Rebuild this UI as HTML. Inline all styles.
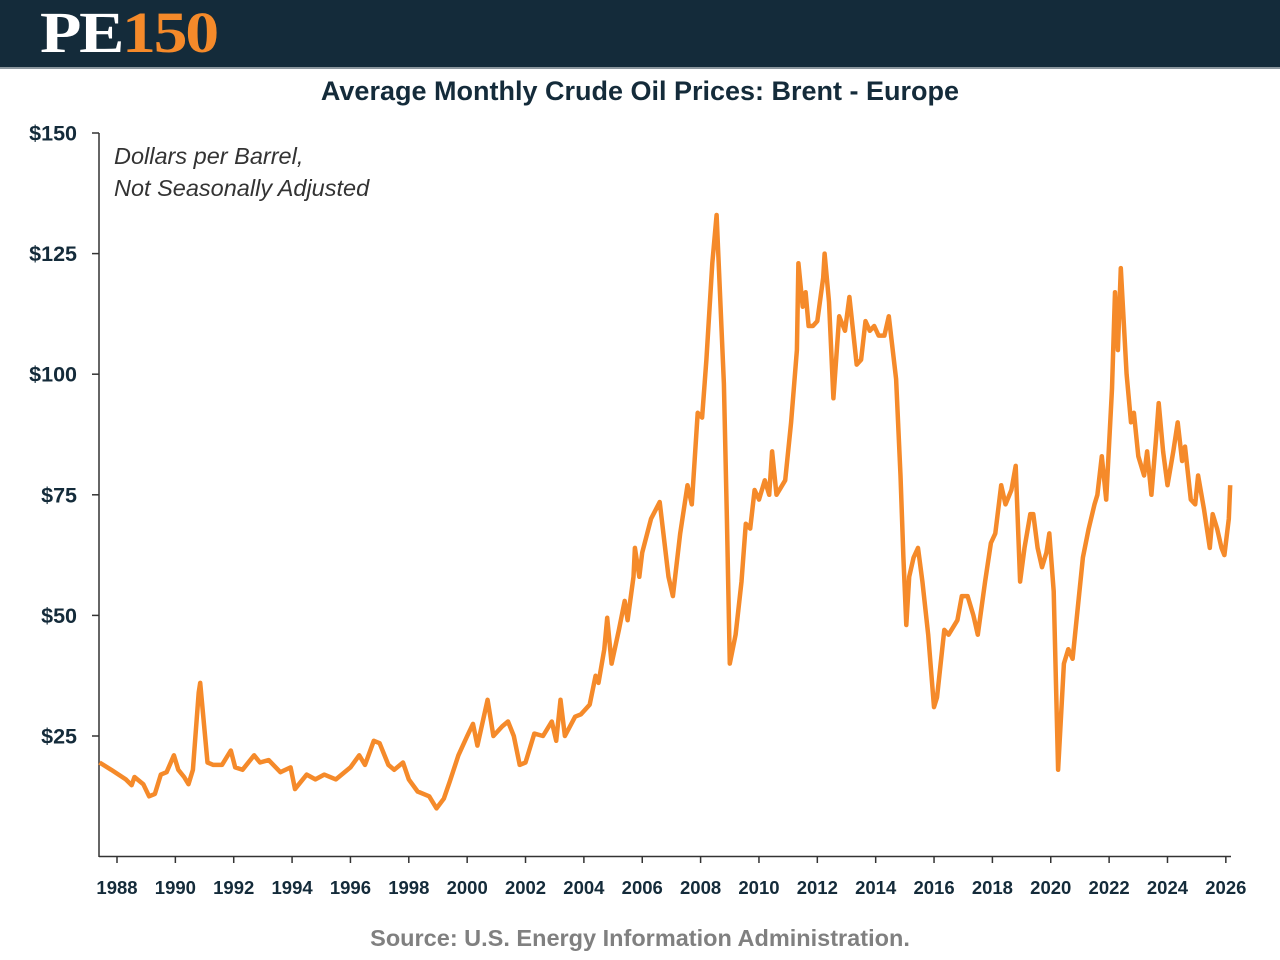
<!DOCTYPE html>
<html><head><meta charset="utf-8">
<style>
body{margin:0;width:1280px;height:960px;background:#fff;font-family:"Liberation Sans",sans-serif;overflow:hidden;position:relative}
.hdr{position:absolute;left:0;top:0;width:1280px;height:67px;background:#142b3a;border-bottom:2px solid #8c979e}
.logo{position:absolute;left:40px;top:3px;font-family:"Liberation Serif",serif;font-weight:bold;font-size:58px;letter-spacing:-2px;line-height:60px;transform:scaleX(1.17);transform-origin:left center}
</style></head><body>
<div class="hdr">
<div class="logo"><span style="color:#fff">PE</span><span style="color:#f58a2a">150</span></div>
</div>
<svg width="1280" height="960" style="position:absolute;left:0;top:0">
<text x="640" y="100" text-anchor="middle" font-size="27" font-weight="bold" fill="#142b3a">Average Monthly Crude Oil Prices: Brent - Europe</text>
<text x="114" y="164" font-size="23.5" font-style="italic" fill="#333">Dollars per Barrel,</text>
<text x="114" y="196" font-size="23.5" font-style="italic" fill="#333">Not Seasonally Adjusted</text>
<text x="640" y="946" text-anchor="middle" font-size="23.5" font-weight="bold" fill="#808080">Source: U.S. Energy Information Administration.</text>
<g id="axes"></g>
<path id="line" fill="none" stroke="#f58a2a" stroke-width="4.5" stroke-linejoin="round"/>
</svg>
<script>
const dates=[1987.4,1987.8,1988.3,1988.5,1988.6,1988.9,1989.1,1989.3,1989.5,1989.7,1989.95,1990.1,1990.3,1990.45,1990.6,1990.8,1990.85,1991.1,1991.3,1991.6,1991.9,1992.05,1992.3,1992.7,1992.9,1993.2,1993.6,1993.95,1994.1,1994.5,1994.8,1995.1,1995.5,1996.0,1996.3,1996.5,1996.8,1997.0,1997.3,1997.5,1997.8,1998.0,1998.3,1998.7,1998.95,1999.2,1999.4,1999.7,2000.0,2000.2,2000.35,2000.7,2000.9,2001.2,2001.4,2001.6,2001.8,2002.0,2002.3,2002.6,2002.9,2003.05,2003.2,2003.35,2003.7,2003.9,2004.2,2004.4,2004.5,2004.7,2004.8,2004.95,2005.2,2005.4,2005.5,2005.7,2005.75,2005.9,2006.0,2006.3,2006.6,2006.9,2007.05,2007.3,2007.55,2007.7,2007.9,2008.05,2008.2,2008.4,2008.55,2008.8,2008.9,2009.0,2009.2,2009.4,2009.55,2009.7,2009.85,2010.0,2010.2,2010.35,2010.45,2010.6,2010.9,2011.1,2011.3,2011.35,2011.5,2011.6,2011.7,2011.85,2012.0,2012.2,2012.25,2012.4,2012.55,2012.75,2012.95,2013.1,2013.35,2013.5,2013.65,2013.8,2013.95,2014.1,2014.3,2014.45,2014.7,2014.85,2014.95,2015.05,2015.15,2015.3,2015.45,2015.6,2015.8,2016.0,2016.1,2016.35,2016.5,2016.8,2016.95,2017.15,2017.35,2017.5,2017.75,2017.95,2018.1,2018.3,2018.45,2018.65,2018.8,2018.95,2019.1,2019.3,2019.4,2019.55,2019.7,2019.85,2019.95,2020.1,2020.25,2020.45,2020.6,2020.75,2020.9,2021.1,2021.3,2021.5,2021.6,2021.75,2021.9,2022.1,2022.2,2022.3,2022.4,2022.6,2022.75,2022.85,2023.0,2023.2,2023.3,2023.45,2023.6,2023.7,2023.85,2024.0,2024.2,2024.35,2024.5,2024.6,2024.8,2024.95,2025.05,2025.25,2025.45,2025.55,2025.7,2025.85,2025.95,2026.1,2026.15];
const prices=[19.5,18,16,14.8,16.5,15,12.5,13,17,17.5,21,18,16.5,15,18,34,36,19.5,19,19,22,18.5,18,21,19.5,20,17.5,18.5,14,17,16,17,16,18.5,21,19,24,23.5,19,18,19.5,16,13.5,12.5,10,12,15.5,21,25,27.5,23,32.5,25,27,28,25,19,19.5,25.5,25,28,24,32.5,25,29,29.5,31.5,37.5,36,43,49.5,40,47,53,49,58,64,58,63,70,73.5,58,54,67,77,73,92,91,103,123,133,98,70,40,46,57,69,68,76,74,78,75,84,75,78,90,105,123,114,117,110,110,111,120,125,115,95,112,109,116,102,103,111,109,110,108,108,112,99,79,62,48,58,62,64,57,46,31,33,47,46,49,54,54,50,46,57,65,67,77,73,76,81,57,64,71,71,64,60,63,67,55,18,40,43,41,50,62,68,73,75,83,74,97,117,105,122,100,90,92,83,79,84,75,86,94,84,77,84,90,82,85,74,73,79,72,64,71,68,64,62.5,70,77];
const yTicks=[25,50,75,100,125,150];
const xTicks=[1988,1990,1992,1994,1996,1998,2000,2002,2004,2006,2008,2010,2012,2014,2016,2018,2020,2022,2024,2026];
const X=y=>117+(y-1988)*29.18;
const Y=v=>856.6-v*4.824;
const NS='http://www.w3.org/2000/svg';
const g=document.getElementById('axes');
function mk(t,a){const e=document.createElementNS(NS,t);for(const k in a)e.setAttribute(k,a[k]);g.appendChild(e);return e;}
let e=mk('line',{x1:99,y1:133,x2:99,y2:857,stroke:'#333','stroke-width':1.5});


e=mk('line',{x1:99,y1:856.5,x2:1231,y2:856.5,stroke:'#333','stroke-width':1.5});


yTicks.forEach(v=>{
 mk('line',{x1:92,y1:Y(v),x2:99,y2:Y(v),stroke:'#333','stroke-width':1.5});
 const t=mk('text',{x:77,y:Y(v)+7.5,'text-anchor':'end','font-size':21.5,'font-weight':'bold',fill:'#142b3a'});
 t.textContent='$'+v;
 
 
});
xTicks.forEach(v=>{
 mk('line',{x1:X(v),y1:856,x2:X(v),y2:863,stroke:'#333','stroke-width':1.5});
 const t=mk('text',{x:X(v),y:894,'text-anchor':'middle','font-size':18.5,'font-weight':'bold',fill:'#142b3a'});
 t.textContent=v;
 
 
});
document.getElementById('line').setAttribute('d',dates.map((d,i)=>(i?'L':'M')+X(d).toFixed(1)+','+Y(prices[i]).toFixed(1)).join(''));
</script>
</body></html>
